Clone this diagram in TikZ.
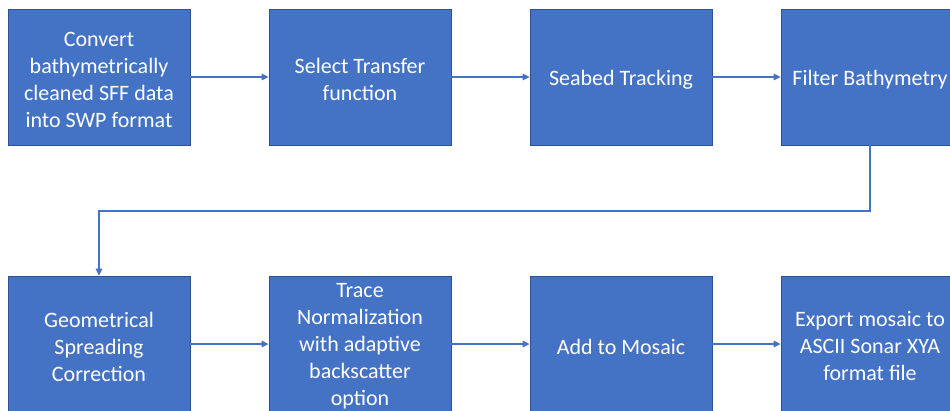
\documentclass[tikz,border=0pt]{standalone}
\usepackage{fontspec}
\setmainfont{Carlito}
\usetikzlibrary{arrows.meta}
\definecolor{boxfill}{HTML}{4472C4}
\definecolor{boxline}{HTML}{2F528F}
\definecolor{linkcol}{HTML}{4472C4}
\begin{document}
\begin{tikzpicture}[x=1pt,y=-1pt,
  stagebox/.style={draw=boxline,line width=0.8pt,fill=boxfill,
    minimum width=182pt,minimum height=136pt,inner sep=0pt,
    label={[text=white,align=center,yshift=-2.5pt,
      font=\fontsize{22}{27}\selectfont]center:#1}},
  lastbox/.style={stagebox=#1,minimum width=178pt},
  link/.style={draw=linkcol,line width=1.4pt,-{Triangle[length=7pt,width=6.5pt]}}]
\useasboundingbox (0,0) rectangle (950,410);
\clip (0,0) rectangle (950,410);
\fill[white] (0,0) rectangle (950,410);
% first row
\node[stagebox={Convert\\bathymetrically\\cleaned SFF data\\into SWP format}] (conv) at (99,77) {};
\node[stagebox={Select Transfer\\function}] (sel) at (360,77) {};
\node[stagebox={Seabed Tracking}] (track) at (621,77) {};
\node[lastbox={Filter Bathymetry}] (filt) at (870,77) {};
% second row
\node[stagebox={Geometrical\\Spreading\\Correction}] (geo) at (99,344) {};
\node[stagebox={Trace\\Normalization\\with adaptive\\backscatter\\option}] (norm) at (360,344) {};
\node[stagebox={Add to Mosaic}] (mos) at (621,344) {};
\node[lastbox={Export mosaic to\\ASCII Sonar XYA\\format file}] (exp) at (870,344) {};
% connectors
\draw[link] (conv) -- (sel);
\draw[link] (sel) -- (track);
\draw[link] (track) -- (filt);
\draw[link] (filt.south) -- (filt.south |- 0,211) -| (geo.north);
\draw[link] (geo) -- (norm);
\draw[link] (norm) -- (mos);
\draw[link] (mos) -- (exp);
\end{tikzpicture}
\end{document}
